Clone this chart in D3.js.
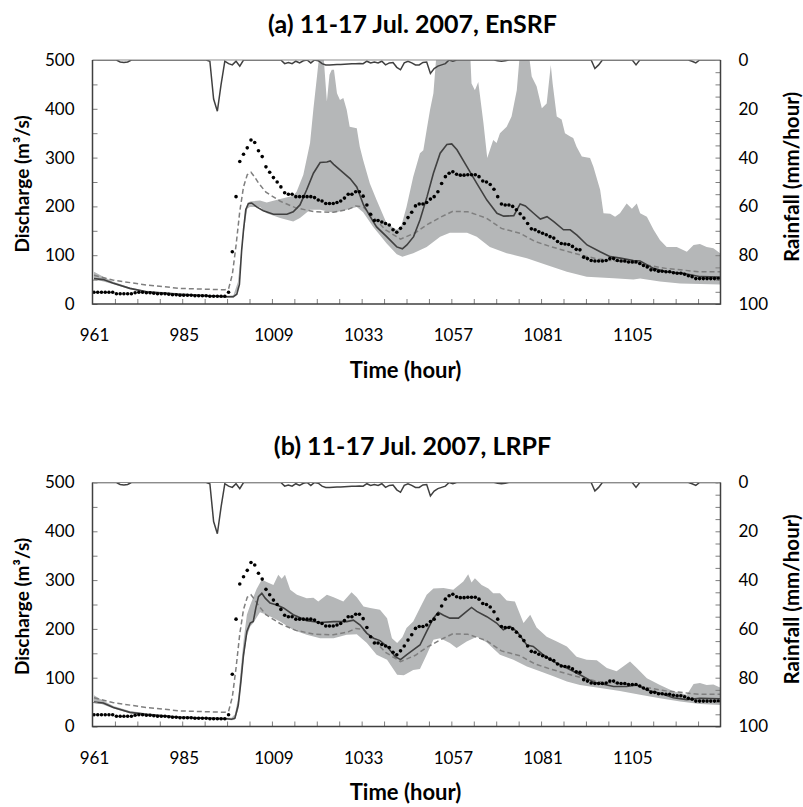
<!DOCTYPE html>
<html>
<head>
<meta charset="utf-8">
<script src="https://cdn.jsdelivr.net/npm/d3@7"></script>
<style>
  body { margin: 0; background: #fff; }
  text { font-family: Lato, "Open Sans", sans-serif; fill: #000; }
</style>
</head>
<body>
<div id="chart"></div>
<script>
// hour categories 961..1128
var hours = d3.range(961, 1129)
var xLabels = [961, 985, 1009, 1033, 1057, 1081, 1105]
var qTicks = [0, 100, 200, 300, 400, 500]
var rTicks = [0, 20, 40, 60, 80, 100]

// observed discharge, one value per hour (same in both panels)
var observed = [
  24,24,24,24,24,24,21,21,21,21,
  21,23,24,24,23,23,22,21,21,21,
  20,19,19,18,18,18,18,17,17,17,
  17,16,16,16,16,16,24,107,220,292,
  307,320,336,331,314,302,281,270,259,250,
  240,228,225,225,220,220,220,220,220,218,
  213,211,206,206,206,208,211,217,225,225,
  230,230,221,203,184,171,171,168,165,162,
  152,147,155,165,177,188,201,205,205,208,
  215,220,230,247,261,268,271,266,264,264,
  265,265,265,261,252,250,245,235,220,205,
  203,203,200,193,185,176,165,154,152,148,
  145,142,138,135,128,124,123,122,118,112,
  111,96,93,89,88,88,88,89,93,93,
  89,88,88,86,86,86,83,79,76,70,
  70,67,67,66,66,64,63,63,61,58,
  56,52,52,52,52,52,52,52
]

// rainfall (mm/hour), one value per hour
var rainfall = [
  0,0,0,0,0,0,0,0.8,1,0.8,
  0,0,0,0,0,0,0,0,0,0,
  0,0,0,0,0,0,0,0,0,0,
  0,0.5,16,21,10,0.5,1.5,2,0.5,2.5,
  0,0,0,0,0,0,0,0,0,0,
  0,1.5,1,1.5,0.5,1.2,0.3,0,1.2,0,
  0.3,1.5,2,2,1.9,1.8,1.8,1.7,1.6,1.5,
  1.5,1.4,1.5,0.5,1.2,0.8,1.2,0.5,2,1.2,
  1,3,4,1.2,0.5,1.2,2,2,1,0.8,
  5.5,3.5,2.5,2,1.5,0,0.5,0,0,0,
  0,0,0,0,0,0,0,0,0.3,0.5,
  0.3,0,0,0,0,0,0,0,0,0,
  0,0,0,0,0,0,0,0,0,0,
  0,0,0,0,3.5,2,0,0,0,0,
  0,0,0,0,0,2,0,0,0,0,
  0,0,0,0,0,0,0,0,0,0,
  0.5,1.2,0,0,0,0,0,0
]

// open loop simulation (dashed), [hour, discharge]
var openLoop = [[961,59],[966,49],[975,39],[984,32],[996,29],[997,31],[998,60],[999,120],[1000,190],
  [1001,240],[1002,265],[1003,270],[1004,260],[1005,248],[1007,229],[1011,210],[1015,197],[1020,189],
  [1025,188],[1029,194],[1031,201],[1033,199],[1036,176],[1039,152],[1043,133],[1047,146],[1050,162],
  [1054,179],[1057,190],[1061,189],[1066,176],[1070,155],[1075,145],[1079,128],[1083,118],[1088,107],
  [1093,97],[1096,92],[1105,85],[1114,73],[1123,66],[1128.5,66]]

// (a) EnSRF
var ensrfMean = [[961,52],[963.5,50],[966,43],[970.6,32],[975,25],[984,20],[996.5,15],[998.3,15],[999.2,20],
  [999.9,40],[1000.5,110],[1001,152],[1001.6,193],[1002.3,206],[1003.2,207],[1004.5,199],[1006.3,191],
  [1009,184],[1012.6,184],[1014.3,189],[1016.1,203],[1017.9,234],[1019.7,268],[1021.5,290],[1023.3,291],
  [1024.2,293],[1025.1,286],[1026.8,275],[1029.5,257],[1031.3,240],[1033.1,203],[1034.9,179],[1036.6,158],
  [1039.3,138],[1042,117],[1043.5,113],[1044.7,121],[1046.5,138],[1048.2,172],[1050.1,220],[1051.8,268],
  [1053.6,309],[1055.4,327],[1056.7,328],[1058.1,316],[1060.8,281],[1063.4,247],[1066.1,213],[1068.8,186],
  [1070.6,180],[1073.3,181],[1075,205],[1076.4,201],[1078.6,186],[1080.4,174],[1082.2,179],[1084,169],
  [1086.6,152],[1088.4,152],[1090.2,141],[1092.9,121],[1096.4,107],[1099.1,97],[1101.8,94],[1105.3,89],
  [1107.1,88],[1110.7,73],[1114.2,66],[1118.7,63],[1123.2,56],[1128.5,55]]
var ensrfUpper = [[961,66],[963,58],[966,46],[970.6,34],[975,27],[984,22],[996.5,17],[998.3,18],[999.5,45],
  [1000.5,115],[1001.5,195],[1002.7,210],[1005.4,212],[1007.2,208],[1010.8,215],[1014.3,222],[1015.2,230],
  [1017,265],[1018.8,330],[1019.7,400],[1020.7,470],[1021.4,520],[1022.3,520],[1023.3,415],[1024,470],
  [1024.6,480],[1025.2,480],[1026,432],[1026.8,418],[1027.7,422],[1028.6,398],[1029.4,363],[1031.3,360],
  [1032.1,322],[1033,295],[1034.8,247],[1036.6,213],[1039.3,165],[1042,152],[1043.2,160],[1044.6,199],
  [1046.4,261],[1048.2,309],[1049.1,315],[1050,357],[1050.9,398],[1051.8,432],[1052.7,520],[1061.6,520],
  [1062,452],[1062.9,438],[1063.8,455],[1065.2,370],[1066.2,299],[1067.8,336],[1068.7,330],[1069.6,350],
  [1071.4,363],[1072.7,384],[1074.1,438],[1075,520],[1077.2,520],[1078.1,466],[1079.4,446],[1080.8,401],
  [1082.1,411],[1083.2,490],[1083.7,452],[1084.8,384],[1086.1,378],[1087,350],[1088.4,343],[1089.2,340],
  [1090.1,322],[1091.5,302],[1093.7,299],[1094.6,281],[1096.4,234],[1097.3,186],[1099.1,185],[1100.4,179],
  [1101.7,186],[1103.5,206],[1104.9,195],[1106.2,206],[1107.1,186],[1108.9,179],[1110.7,152],[1112.4,131],
  [1114.2,117],[1116.9,117],[1119.6,107],[1121.4,121],[1123.1,123],[1124.9,117],[1126.7,114],[1128.5,104]]
var ensrfLower = [[961,49],[963,47],[966,41],[970.6,30],[975,23],[984,18],[996.5,13],[998.3,13],[999.5,30],
  [1000.5,105],[1001.3,160],[1002,195],[1002.7,199],[1005.4,199],[1007.2,186],[1010.8,176],[1014.3,169],
  [1016.1,176],[1018.8,193],[1021.5,193],[1025.1,187],[1028.6,193],[1031.3,199],[1033,188],[1035.7,158],
  [1039.3,124],[1042,102],[1043.5,97],[1046.4,104],[1050,117],[1053.6,138],[1056.2,146],[1060.8,146],
  [1063.4,138],[1066.9,117],[1071.4,104],[1076.8,94],[1082.1,80],[1087.5,66],[1092.8,56],[1100,53],
  [1105.3,50],[1107.1,52],[1112.4,46],[1117.8,42],[1128.5,40]]

// (b) LRPF
var lrpfMean = [[961,50],[963.5,48],[966.2,39],[970.6,29],[975,25],[984,19],[996.5,16],[997.8,15],[998.7,17],
  [999.6,44],[1000.3,92],[1001,147],[1001.9,195],[1002.8,212],[1003.6,215],[1004.3,243],[1005,266],
  [1005.9,273],[1006.8,263],[1008.1,253],[1009.9,249],[1011.7,243],[1014.3,229],[1017.9,217],[1021.5,213],
  [1025.1,215],[1028.6,215],[1030.4,218],[1032.2,208],[1034,191],[1035.8,181],[1037.5,176],[1039.4,164],
  [1041.6,143],[1043,137],[1044.6,147],[1046.4,157],[1048.2,167],[1050,195],[1051.8,222],[1053.1,234],
  [1054.5,228],[1056.2,222],[1058.5,222],[1060.7,236],[1062,244],[1063.4,236],[1066.1,225],[1068.7,212],
  [1070.5,198],[1072.3,205],[1074.1,195],[1076.8,167],[1078.5,164],[1081.2,147],[1083.9,133],[1087.5,120],
  [1091,106],[1094.6,91],[1100,82],[1103.5,82],[1106.2,85],[1108.9,75],[1112.4,68],[1116,59],[1119.6,55],
  [1123.1,58],[1128.5,57]]
var lrpfUpper = [[961,64],[963,55],[966.2,42],[970.6,32],[975,27],[984,21],[996.5,18],[997.8,18],[998.7,25],
  [999.6,60],[1000.3,120],[1001,175],[1001.9,229],[1002.8,249],[1004.5,282],[1005.9,301],[1007.2,296],
  [1009,290],[1010.3,311],[1011.2,303],[1012.1,311],[1013.5,280],[1015.3,270],[1017.9,263],[1019.7,264],
  [1021,256],[1023.3,270],[1025.1,265],[1027.7,256],[1029.9,275],[1031.3,265],[1033.1,246],[1034.9,243],
  [1037.5,239],[1039.4,222],[1040.7,181],[1042.1,171],[1043.5,183],[1044.6,202],[1046.4,215],[1048.2,243],
  [1050,270],[1051.8,283],[1054.5,284],[1057.1,280],[1059.8,297],[1061.1,312],[1062,295],[1062.9,304],
  [1064.7,290],[1066.5,283],[1067.8,273],[1069.6,273],[1071.4,258],[1073.6,256],[1075.9,212],[1077.7,229],
  [1079.4,203],[1082.1,184],[1084.8,174],[1087.5,164],[1090.1,143],[1092.8,137],[1095.5,136],[1098.2,120],
  [1100.8,113],[1104.4,133],[1106.2,120],[1108.9,99],[1112.4,85],[1116,72],[1119.6,65],[1121.4,87],
  [1123.1,89],[1124.9,85],[1126.7,86],[1128.5,80]]
var lrpfLower = [[961,48],[963,46],[966.2,37],[970.6,27],[975,23],[984,17],[996.5,14],[997.8,13],[998.7,14],
  [999.6,35],[1000.3,85],[1001,135],[1001.9,185],[1002.8,205],[1003.6,212],[1005.4,234],[1007.2,229],
  [1010.8,215],[1014.3,198],[1017.9,188],[1021.5,181],[1025.1,181],[1028.6,188],[1031.3,189],[1034,171],
  [1036.6,147],[1039.4,137],[1042.1,106],[1043.9,105],[1046.4,116],[1048.2,118],[1050,147],[1051.8,178],
  [1053.6,181],[1056.2,171],[1058,161],[1060.7,174],[1063.4,184],[1066.1,172],[1069.6,147],[1073.2,137],
  [1076.8,123],[1080.3,113],[1083.9,103],[1087.5,92],[1091,85],[1096.4,79],[1101.7,73],[1107.1,65],
  [1112.4,58],[1117.8,51],[1123.1,46],[1128.5,44]]

var W = 803, H = 807
var margin = { left: 92.5 }
var width = 628, height = 244

var svg = d3.select("#chart").append("svg")
    .attr("width", W)
    .attr("height", H)

var x = d3.scaleLinear().domain([960.6, 1128.6]).range([0, width])
var y = d3.scaleLinear().domain([0, 500]).range([height, 0])
var yR = d3.scaleLinear().domain([0, 100]).range([0, height])

function drawPanel(top, id, title, mean, upper, lower) {

    var g = svg.append("g")
        .attr("transform", "translate(" + margin.left + "," + top + ")")

    g.append("clipPath").attr("id", "clip" + id)
        .append("rect").attr("width", width).attr("height", height)

    var plot = g.append("g").attr("clip-path", "url(#clip" + id + ")")

    // ensemble spread: upper edge forward, lower edge back
    var poly = upper.concat(lower.slice().reverse())
    var line = d3.line().x(function (d) { return x(d[0]) }).y(function (d) { return y(d[1]) })
    plot.append("path")
        .attr("d", line(poly) + "Z")
        .attr("fill", "#b5b7b8")

    plot.append("path")
        .attr("d", line(openLoop))
        .attr("fill", "none")
        .attr("stroke", "#7f7f7f")
        .attr("stroke-width", 1.5)
        .attr("stroke-dasharray", "5,3")

    plot.append("path")
        .attr("d", line(mean))
        .attr("fill", "none")
        .attr("stroke", "#404040")
        .attr("stroke-width", 1.6)

    plot.selectAll("circle")
        .data(observed)
        .enter().append("circle")
        .attr("cx", function (d, i) { return x(hours[i]) })
        .attr("cy", function (d) { return y(d) })
        .attr("r", 1.8)
        .attr("fill", "#000")

    var rainLine = d3.line()
        .x(function (d, i) { return x(hours[i]) })
        .y(function (d) { return yR(d) })
    plot.append("path")
        .attr("d", rainLine(rainfall))
        .attr("fill", "none")
        .attr("stroke", "#404040")
        .attr("stroke-width", 1.5)

    // left axis
    var ax = g.append("g")
        .call(d3.axisLeft(y).tickValues(d3.range(0, 501, 50)).tickSizeInner(-5).tickSizeOuter(0).tickPadding(18)
            .tickFormat(function (d) { return qTicks.indexOf(d) >= 0 ? d : "" }))
    // right axis
    var ar = g.append("g").attr("transform", "translate(" + width + ",0)")
        .call(d3.axisRight(yR).tickValues(d3.range(0, 101, 5)).tickSizeInner(-5).tickSizeOuter(0).tickPadding(18)
            .tickFormat(function (d) { return rTicks.indexOf(d) >= 0 ? d : "" }))
    // bottom ticks every 6 hours
    var ab = g.append("g").attr("transform", "translate(0," + height + ")")
        .call(d3.axisBottom(x).tickValues(d3.range(960.6 + 6, 1128.6, 6)).tickSizeInner(-5).tickSizeOuter(0)
            .tickFormat(""))
    var al = g.append("g").attr("transform", "translate(0," + height + ")")
        .call(d3.axisBottom(x).tickValues(xLabels).tickSize(0).tickPadding(25).tickFormat(d3.format("d")))

    ;[ax, ar, ab, al].forEach(function (a) {
        a.select(".domain").remove()
        a.selectAll("line").attr("stroke", "#7f7f7f")
        a.selectAll("text").attr("font-size", 17).attr("fill", "#000")
    })
    al.selectAll("line").remove()

    // frame
    g.append("line").attr("x1", 0).attr("x2", width).attr("y1", 0).attr("y2", 0)
        .attr("stroke", "#8c8c8c").attr("stroke-width", 1.2)
    g.append("path")
        .attr("d", "M0,0V" + height + "H" + width + "V0")
        .attr("fill", "none").attr("stroke", "#404040").attr("stroke-width", 1.5)

    g.append("text")
        .attr("x", 320).attr("y", -27.5)
        .attr("text-anchor", "middle")
        .attr("font-size", 25).attr("font-weight", "bold")
        .text(title)

    g.append("text")
        .attr("transform", "translate(" + (29 - margin.left) + "," + 124 + ") rotate(-90)")
        .attr("text-anchor", "middle")
        .attr("font-size", 19).attr("font-weight", "bold")
        .text("Discharge (m³/s)")

    g.append("text")
        .attr("transform", "translate(" + (799 - margin.left) + "," + 117 + ") rotate(-90)")
        .attr("text-anchor", "middle")
        .attr("font-size", 20.5).attr("font-weight", "bold")
        .text("Rainfall (mm/hour)")

    g.append("text")
        .attr("x", 313).attr("y", height + 73.5)
        .attr("text-anchor", "middle")
        .attr("font-size", 22).attr("font-weight", "bold")
        .text("Time (hour)")
}

drawPanel(60, "a", "(a) 11-17 Jul. 2007, EnSRF", ensrfMean, ensrfUpper, ensrfLower)
drawPanel(482.5, "b", "(b) 11-17 Jul. 2007, LRPF", lrpfMean, lrpfUpper, lrpfLower)
</script>
</body>
</html>
